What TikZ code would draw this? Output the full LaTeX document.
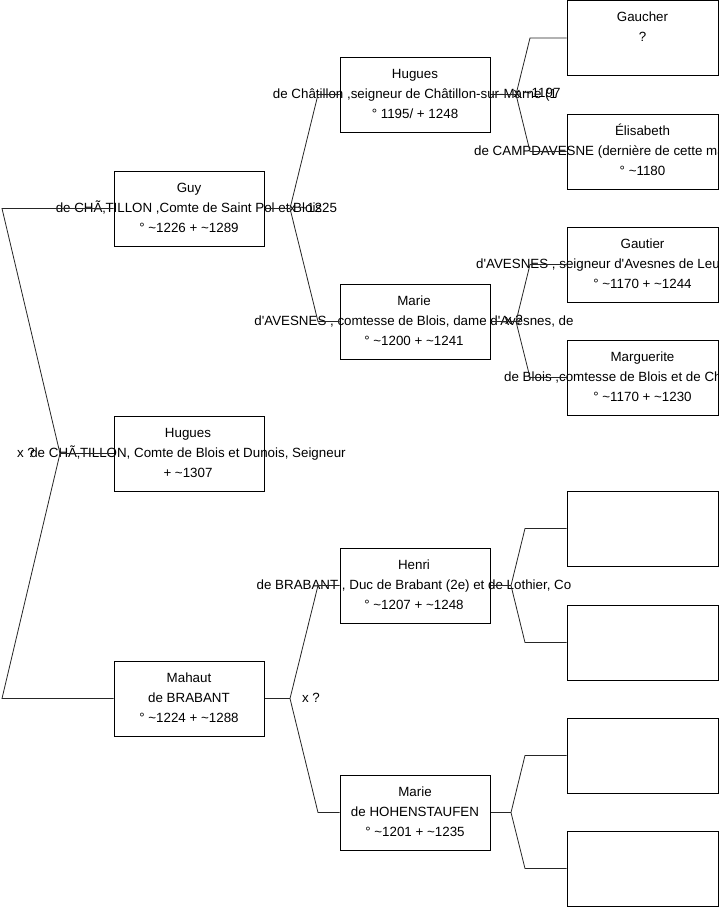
\documentclass[tikz,border=0pt]{standalone}
\usepackage{fontspec}
\setmainfont{Liberation Sans}[Ligatures=TeXOff]
\newcommand\tld{\textasciitilde}
\begin{document}
\begin{tikzpicture}[x=1pt,y=-1pt,
  box/.style={draw=black, line width=1pt, minimum width=150pt, minimum height=75pt, inner sep=0pt, anchor=center},
  gbox/.style={box, minimum width=151pt},
  txt/.style={font=\fontsize{13.35}{20}\selectfont, align=center, inner sep=0pt},
  ln/.style={font=\fontsize{13.35}{20}\selectfont, inner sep=0pt},
  con/.style={draw=black!85, line width=0.8pt}]
\useasboundingbox (0,0) rectangle (719,908);
\fill[white] (0,0) rectangle (719,908);
\clip (0,0) rectangle (719,908);

% boxes
\node[box] (guy) at (189,208.5) {};
\node[box] (hug1) at (189,453.5) {};
\node[box] (mah) at (189,698.5) {};
\node[box] (hug2) at (415,94.5) {};
\node[box] (mar) at (415,321.5) {};
\node[box] (hen) at (415,585.5) {};
\node[box] (marh) at (415,812.5) {};
\node[gbox] (gau) at (642.5,38) {};
\node[gbox] (eli) at (642.5,151.5) {};
\node[gbox] (gat) at (642.5,264.5) {};
\node[gbox] (mrg) at (642.5,377.5) {};
\node[gbox] (e1) at (642.5,528.5) {};
\node[gbox] (e2) at (642.5,642.5) {};
\node[gbox] (e3) at (642.5,755.5) {};
\node[gbox] (e4) at (642.5,868.5) {};

% texts
\node[txt] (tguy) at (189,207.5) {Guy\\de CHÃ‚TILLON ,Comte de Saint Pol et Blois\\° \tld1226 + \tld1289};
\node[txt] (thug1) at (188,452.5) {Hugues\\de CHÃ‚TILLON, Comte de Blois et Dunois, Seigneur\\+ \tld1307};
\node[txt] (tmah) at (189,697.5) {Mahaut\\de BRABANT\\° \tld1224 + \tld1288};
\node[txt] (thug2) at (415,93.5) {Hugues\\de Châtillon ,seigneur de Châtillon-sur-Marne (1\\° 1195/ + 1248};
\node[txt] (tmar) at (414,320.5) {Marie\\d'AVESNES , comtesse de Blois, dame d'Avesnes, de\\° \tld1200 + \tld1241};
\node[txt] (then) at (414,584.5) {Henri\\de BRABANT , Duc de Brabant (2e) et de Lothier, Co\\° \tld1207 + \tld1248};
\node[txt] (tmarh) at (415,811.5) {Marie\\de HOHENSTAUFEN\\° \tld1201 + \tld1235};
\node[txt] (tgau) at (642.5,27) {Gaucher\\?};
\node[ln, anchor=base] (teli1) at (642.5,135) {Élisabeth};
\node[ln, anchor=base west] (teli2) at (474,155) {de CAMPDAVESNE (dernière de cette ma};
\node[ln, anchor=base] (teli3) at (642.5,175) {° \tld1180};
\node[ln, anchor=base] (tgat1) at (642.5,248) {Gautier};
\node[ln, anchor=base west] (tgat2) at (476,268) {d'AVESNES , seigneur d'Avesnes de Leu};
\node[ln, anchor=base] (tgat3) at (642.5,288) {° \tld1170 + \tld1244};
\node[ln, anchor=base] (tmrg1) at (642.5,361) {Marguerite};
\node[ln, anchor=base west] (tmrg2) at (504,381) {de Blois ,comtesse de Blois et de Ch};
\node[ln, anchor=base] (tmrg3) at (642.5,401) {° \tld1170 + \tld1230};

% marriage labels
\node[ln] (x1) at (26,452.5) {x ?};
\node[ln] (x2) at (313,207.5) {x \tld1225};
\node[ln] (x3) at (537,92.5) {x \tld1197};
\node[ln] (x4) at (514,319.5) {x ?};
\node[ln] (x5) at (311,697.5) {x ?};

% connector points
\coordinate (jL) at (60,453.5);
\coordinate (cL1) at (2,208.5);
\coordinate (cL2) at (2,698.5);
\coordinate (jG) at (290,208.5);
\coordinate (cG1) at (318,94.5);
\coordinate (cG2) at (318,321.5);
\coordinate (jM) at (290,698.5);
\coordinate (cM1) at (318,585.5);
\coordinate (cM2) at (318,812.5);
\coordinate (jH) at (516,94.5);
\coordinate (cH1) at (530,38);
\coordinate (cH2) at (530,151.5);
\coordinate (jMa) at (516,321.5);
\coordinate (cMa1) at (530,264.5);
\coordinate (cMa2) at (530,377.5);
\coordinate (jHe) at (511,585.5);
\coordinate (cHe1) at (525,528.5);
\coordinate (cHe2) at (525,642.5);
\coordinate (jMh) at (511,812.5);
\coordinate (cMh1) at (525,755.5);
\coordinate (cMh2) at (525,868.5);

% connectors
\draw[con] (guy.west) -- (cL1) -- (jL) -- (cL2) -- (mah.west);
\draw[con] (jL) -- (hug1.west);
\draw[con] (guy.east) -- (jG);
\draw[con] (hug2.west) -- (cG1) -- (jG) -- (cG2) -- (mar.west);
\draw[con] (mah.east) -- (jM);
\draw[con] (hen.west) -- (cM1) -- (jM) -- (cM2) -- (marh.west);
\draw[con] (hug2.east) -- (jH);
\draw[con] (gau.west) -- (cH1) -- (jH) -- (cH2) -- (eli.west);
\draw[con] (mar.east) -- (jMa);
\draw[con] (gat.west) -- (cMa1) -- (jMa) -- (cMa2) -- (mrg.west);
\draw[con] (hen.east) -- (jHe);
\draw[con] (e1.west) -- (cHe1) -- (jHe) -- (cHe2) -- (e2.west);
\draw[con] (marh.east) -- (jMh);
\draw[con] (e3.west) -- (cMh1) -- (jMh) -- (cMh2) -- (e4.west);
\end{tikzpicture}
\end{document}
